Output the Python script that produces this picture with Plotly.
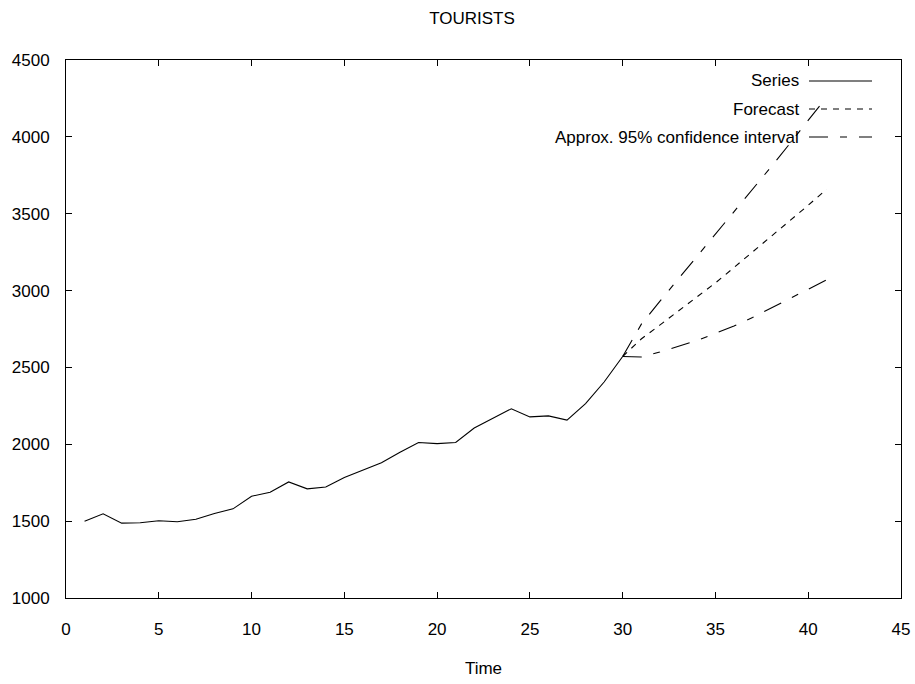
import plotly.graph_objects as go

# ---- data ----
time = list(range(1, 31))
tourists = [1500, 1548, 1487, 1490, 1503, 1496, 1512, 1550, 1580, 1662,
            1688, 1755, 1710, 1722, 1784, 1833, 1880, 1948, 2012, 2004,
            2012, 2106, 2171, 2231, 2178, 2185, 2157, 2265, 2405, 2571]

fc_time = list(range(30, 42))
forecast = [2571, 2685, 2775, 2865, 2960, 3050, 3150, 3250, 3350, 3450, 3555, 3660]
upper_ci = [2571, 2780, 2930, 3075, 3225, 3370, 3515, 3660, 3805, 3955, 4105, 4260]
lower_ci = [2571, 2568, 2600, 2640, 2675, 2722, 2770, 2825, 2885, 2945, 3010, 3070]

legend_labels = ["Series", "Forecast", "Approx. 95% confidence interval"]
x_ticks = [0, 5, 10, 15, 20, 25, 30, 35, 40, 45]
y_ticks = [1000, 1500, 2000, 2500, 3000, 3500, 4000, 4500]

FONT = "Liberation Sans, Arial, sans-serif"
FS = 17
SOLID = "solid"
FC_DASH = "6px,6px"
CI_DASH = "19px,12px,7px,12px"

fig = go.Figure()
fig.add_trace(go.Scatter(x=time, y=tourists, mode="lines",
                         line=dict(color="black", width=1.1, dash=SOLID),
                         name=legend_labels[0], showlegend=False))
fig.add_trace(go.Scatter(x=fc_time, y=forecast, mode="lines",
                         line=dict(color="black", width=1.1, dash=FC_DASH),
                         name=legend_labels[1], showlegend=False))
fig.add_trace(go.Scatter(x=fc_time, y=upper_ci, mode="lines",
                         line=dict(color="black", width=1.1, dash=CI_DASH),
                         name=legend_labels[2], showlegend=False))
fig.add_trace(go.Scatter(x=fc_time, y=lower_ci, mode="lines",
                         line=dict(color="black", width=1.1, dash=CI_DASH),
                         name=legend_labels[2], showlegend=False))

# figure fills the window (body margin removed below)
W, H = 915, 684
# plot area in page pixels: x 66..901, y 60..598
PL, PR, PT, PB = 66, 901, 60, 598
L, R, T, B = PL, W - PR, PT, H - PB
pw, ph = PR - PL, PB - PT
def px(xp): return (xp - PL) / pw
def py(yp): return (PB - yp) / ph

leg_y = [81, 109, 137]
dashes = [SOLID, FC_DASH, CI_DASH]
for lab, yy, d in zip(legend_labels, leg_y, dashes):
    fig.add_annotation(x=px(801), y=py(yy), xref="paper", yref="paper",
                       text=lab, showarrow=False, xanchor="right", yanchor="middle",
                       font=dict(family=FONT, size=FS, color="black"))
    fig.add_shape(type="line", xref="paper", yref="paper",
                  x0=px(809), x1=px(872), y0=py(yy), y1=py(yy),
                  line=dict(color="black", width=1.1, dash=d))

axis_common = dict(showline=True, linecolor="black", linewidth=1, mirror="ticks",
                   ticks="inside", ticklen=6, tickcolor="black", tickwidth=1,
                   showgrid=False, zeroline=False, automargin=False,
                   ticklabeloverflow="allow",
                   tickfont=dict(family=FONT, size=FS, color="black"))

fig.update_xaxes(range=[0, 45], tickvals=x_ticks, ticktext=[str(v) for v in x_ticks],
                 ticklabelstandoff=16,
                 title=dict(text="Time", font=dict(family=FONT, size=FS, color="black"),
                            standoff=23),
                 **axis_common)
fig.update_yaxes(range=[1000, 4500], tickvals=y_ticks, ticktext=[str(v) for v in y_ticks],
                 ticklabelstandoff=12, **axis_common)

fig.update_layout(
    width=W, height=H,
    margin=dict(l=L, r=R, t=T, b=B),
    paper_bgcolor="white", plot_bgcolor="white",
    title=dict(text="TOURISTS", x=px(472), xref="paper", xanchor="center",
               y=1 - 18 / H, yanchor="middle",
               font=dict(family=FONT, size=FS, color="black")),
    showlegend=False,
)

fig.write_html("out.html", config={"displayModeBar": False},
               post_script="document.body.style.margin='0';document.body.style.overflow='hidden';")
